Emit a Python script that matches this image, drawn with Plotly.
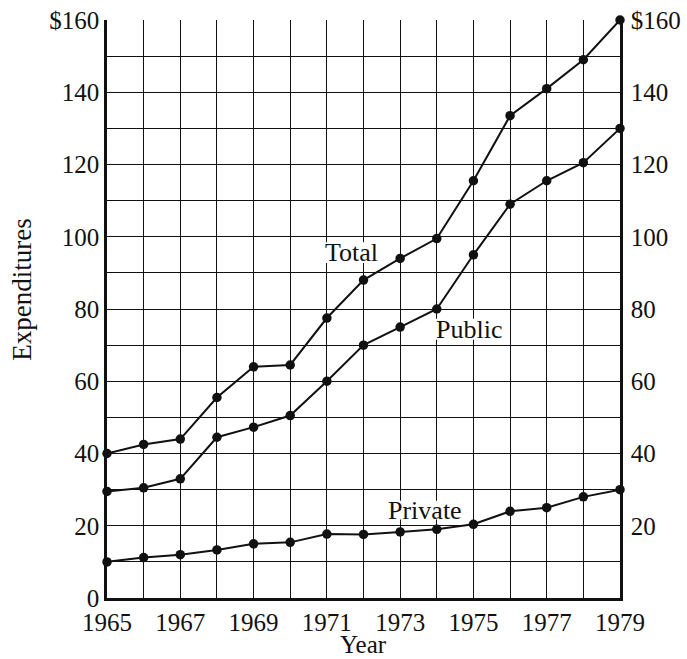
import plotly.graph_objects as go

years = list(range(1965, 1980))
total = [40, 42.5, 44, 55.5, 64, 64.5, 77.5, 88, 94, 99.5, 115.5, 133.5, 141, 149, 160]
public = [29.5, 30.5, 33, 44.5, 47.3, 50.5, 60, 70, 75, 80, 95, 109, 115.5, 120.5, 130]
private = [10, 11.2, 12, 13.3, 15, 15.4, 17.7, 17.6, 18.3, 19, 20.4, 24, 25, 28, 30]

y_ticks = list(range(0, 170, 10))
left_labels = ["0", "", "20", "", "40", "", "60", "", "80", "", "100", "", "120", "", "140", "", "$160"]
right_labels = ["", "", "20", "", "40", "", "60", "", "80", "", "100", "", "120", "", "140", "", "$160"]
x_labels = [str(y) if (y - 1965) % 2 == 0 else "" for y in years]

# series name, label centre (x, y), half-size of the white patch behind it (years, $)
series_labels = [
    ("Total", 1971.67, 95.6, 0.85, 2.9),
    ("Public", 1974.88, 74.4, 0.95, 2.9),
    ("Private", 1973.68, 24.3, 1.12, 2.6),
]

FONT = "Liberation Serif"
INK = "#111111"

fig = go.Figure()
for vals in (total, public, private):
    fig.add_trace(go.Scatter(
        x=years, y=vals, mode="lines+markers",
        line=dict(color=INK, width=2),
        marker=dict(color=INK, size=9.5),
        cliponaxis=False, showlegend=False, hoverinfo="skip",
    ))

# invisible trace so the right-hand axis is drawn
fig.add_trace(go.Scatter(x=[1965], y=[0], yaxis="y2", mode="markers",
                         marker=dict(opacity=0), showlegend=False, hoverinfo="skip"))

for text, x, y, hw, hh in series_labels:
    # blank out the grid behind each series name (above grid, below lines)
    fig.add_shape(type="rect", x0=x - hw, x1=x + hw, y0=y - hh, y1=y + hh,
                  xref="x", yref="y", fillcolor="white", line=dict(width=0),
                  layer="between")
    fig.add_annotation(x=x, y=y, text=text, showarrow=False,
                       font=dict(family=FONT, size=26, color=INK))

# axis titles
fig.add_annotation(x=-0.166, y=0.533, xref="paper", yref="paper",
                   xanchor="center", yanchor="middle",
                   text="Expenditures", textangle=-90, showarrow=False,
                   font=dict(family=FONT, size=27, color=INK))
fig.add_annotation(x=0.5, y=-0.081, xref="paper", yref="paper",
                   xanchor="center", yanchor="middle", borderpad=0,
                   text="Year", showarrow=False,
                   font=dict(family=FONT, size=25, color=INK))

fig.update_layout(
    width=687, height=659,
    margin=dict(l=107, r=67, t=20, b=61),
    paper_bgcolor="white", plot_bgcolor="white",
    font=dict(family=FONT, size=25, color=INK),
    xaxis=dict(
        range=[1965, 1979], tickvals=years, ticktext=x_labels,
        showgrid=True, gridcolor=INK, gridwidth=1.3,
        showline=True, linecolor=INK, linewidth=2.5,
        zeroline=False, ticks="", ticklabelstandoff=0, automargin=False,
    ),
    yaxis=dict(
        range=[0, 160], tickvals=y_ticks, ticktext=left_labels,
        showgrid=True, gridcolor=INK, gridwidth=1.3,
        showline=True, linecolor=INK, linewidth=2.5,
        zeroline=False, ticks="", ticklabelstandoff=0, automargin=False,
    ),
    yaxis2=dict(
        range=[0, 160], tickvals=y_ticks, ticktext=right_labels,
        overlaying="y", side="right", showgrid=False,
        showline=True, linecolor=INK, linewidth=2.5,
        zeroline=False, ticks="", ticklabelstandoff=3, automargin=False,
    ),
)

fig.write_html("out.html")
